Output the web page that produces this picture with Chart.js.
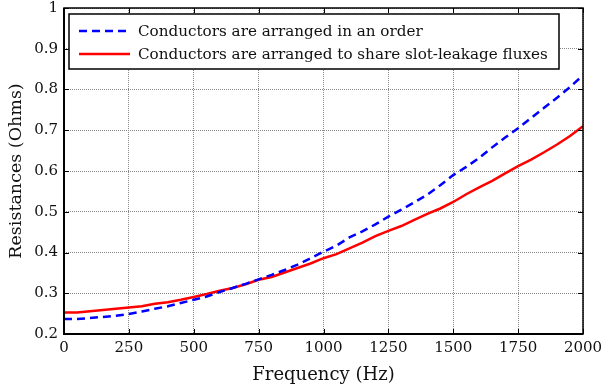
<!DOCTYPE html>
<html>
<head>
<meta charset="utf-8">
<script src="https://cdn.jsdelivr.net/npm/chart.js@4/dist/chart.umd.min.js"></script>
<style>
  html, body { margin: 0; padding: 0; background: #fff; }
  #wrap { width: 601px; height: 387px; }
</style>
</head>
<body>
<div id="wrap"><canvas id="grafico"></canvas></div>
<script>
// frecuencias (Hz)
const frecuencias = [0, 50, 100, 150, 200, 250, 300, 350, 400, 450, 500, 550, 600, 650, 700, 750,
    800, 850, 900, 950, 1000, 1050, 1100, 1150, 1200, 1250, 1300, 1350, 1400, 1450, 1500,
    1550, 1600, 1650, 1700, 1750, 1800, 1850, 1900, 1950, 2000];

// resistencias (Ohms)
const enOrden = [0.237, 0.237, 0.239, 0.242, 0.245, 0.249, 0.255, 0.262, 0.268, 0.276, 0.284,
    0.292, 0.303, 0.313, 0.323, 0.334, 0.345, 0.357, 0.370, 0.386, 0.402, 0.417, 0.437,
    0.452, 0.469, 0.488, 0.505, 0.523, 0.542, 0.565, 0.590, 0.610, 0.632, 0.658, 0.682,
    0.705, 0.730, 0.755, 0.780, 0.806, 0.835];
const compartido = [0.253, 0.253, 0.256, 0.259, 0.262, 0.265, 0.268, 0.274, 0.278, 0.284, 0.291,
    0.298, 0.306, 0.313, 0.322, 0.333, 0.340, 0.351, 0.362, 0.373, 0.386, 0.396, 0.410,
    0.424, 0.440, 0.453, 0.465, 0.480, 0.495, 0.508, 0.524, 0.543, 0.560, 0.576, 0.594,
    0.612, 0.628, 0.646, 0.665, 0.686, 0.710];

const etiquetas = ['Conductors are arranged in an order',
    'Conductors are arranged to share slot-leakage fluxes'];
const tituloX = 'Frequency (Hz)';
const tituloY = 'Resistances (Ohms)';

const fuente = '"DejaVu Serif", "Liberation Serif", serif';

// marco negro con marcas hacia adentro, como en MATLAB
const marco = {
    id: 'marco',
    afterDatasetsDraw(chart) {
        const { ctx, chartArea: a, scales } = chart;
        ctx.save();
        ctx.strokeStyle = '#000';
        ctx.lineWidth = 1;
        ctx.beginPath();
        scales.x.ticks.forEach(t => {
            const px = Math.round(scales.x.getPixelForValue(t.value)) + 0.5;
            ctx.moveTo(px, a.bottom); ctx.lineTo(px, a.bottom - 5);
            ctx.moveTo(px, a.top); ctx.lineTo(px, a.top + 5);
        });
        scales.y.ticks.forEach(t => {
            const py = Math.round(scales.y.getPixelForValue(t.value)) + 0.5;
            ctx.moveTo(a.left, py); ctx.lineTo(a.left + 5, py);
            ctx.moveTo(a.right, py); ctx.lineTo(a.right - 5, py);
        });
        ctx.stroke();
        ctx.lineWidth = 1.5;
        ctx.strokeRect(a.left, a.top, a.right - a.left, a.bottom - a.top);
        ctx.lineWidth = 2;
        ctx.beginPath();
        ctx.moveTo(a.left, a.top); ctx.lineTo(a.left, a.bottom); ctx.lineTo(a.right, a.bottom);
        ctx.stroke();
        ctx.restore();
    }
};

// leyenda dentro del area del grafico
const leyenda = {
    id: 'leyenda',
    afterDraw(chart) {
        const { ctx } = chart;
        const x0 = 69, y0 = 14, w = 490, h = 55;
        ctx.save();
        ctx.fillStyle = '#fff';
        ctx.fillRect(x0, y0, w, h);
        ctx.strokeStyle = '#000';
        ctx.lineWidth = 1.5;
        ctx.strokeRect(x0, y0, w, h);
        ctx.font = '15px ' + fuente;
        const ancho = ctx.measureText(etiquetas[1]).width;
        const tam = 15 * 410 / ancho;
        ctx.font = tam.toFixed(2) + 'px ' + fuente;
        ctx.textBaseline = 'middle';
        const filas = [31, 54];
        chart.data.datasets.forEach((ds, i) => {
            ctx.strokeStyle = ds.borderColor;
            ctx.lineWidth = ds.borderWidth;
            ctx.setLineDash(ds.borderDash || []);
            ctx.beginPath();
            ctx.moveTo(79, filas[i]);
            ctx.lineTo(130, filas[i]);
            ctx.stroke();
            ctx.setLineDash([]);
            ctx.fillStyle = '#111';
            ctx.fillText(ds.label, 138, filas[i] + 1);
        });
        ctx.restore();
    }
};

const ctx = document.getElementById('grafico').getContext('2d');
new Chart(ctx, {
    type: 'line',
    data: {
        datasets: [
            {
                label: etiquetas[0],
                data: frecuencias.map((f, i) => ({ x: f, y: enOrden[i] })),
                borderColor: '#0000ff',
                borderWidth: 2.5,
                borderDash: [8, 5],
                pointRadius: 0,
                fill: false
            },
            {
                label: etiquetas[1],
                data: frecuencias.map((f, i) => ({ x: f, y: compartido[i] })),
                borderColor: '#ff0000',
                borderWidth: 2.5,
                pointRadius: 0,
                fill: false
            }
        ]
    },
    options: {
        responsive: true,
        maintainAspectRatio: false,
        animation: false,
        layout: { padding: { left: 0, right: 18, top: 8, bottom: 0 } },
        plugins: {
            legend: { display: false },
            tooltip: { enabled: false }
        },
        scales: {
            x: {
                type: 'linear',
                min: 0,
                max: 2000,
                afterFit: s => { s.height = 53; s.paddingLeft = 0; s.paddingRight = 0; },
                ticks: {
                    stepSize: 250,
                    color: '#111',
                    padding: 5,
                    maxRotation: 0,
                    font: { family: fuente, size: 15 },
                    callback: v => String(v)
                },
                grid: { color: '#888', drawTicks: false },
                border: { display: false, dash: [1, 1] },
                title: {
                    display: true,
                    text: tituloX,
                    color: '#111',
                    font: { family: fuente, size: 18 },
                    padding: { top: 0, bottom: 1 }
                }
            },
            y: {
                min: 0.2,
                max: 1,
                afterFit: s => { s.width = 64; s.paddingTop = 0; s.paddingBottom = 0; },
                ticks: {
                    stepSize: 0.1,
                    color: '#111',
                    padding: 6,
                    font: { family: fuente, size: 15 },
                    callback: v => Number(v.toFixed(1)).toString()
                },
                grid: { color: '#888', drawTicks: false },
                border: { display: false, dash: [1, 1] },
                title: {
                    display: true,
                    text: tituloY,
                    color: '#111',
                    font: { family: fuente, size: 17.5 },
                    padding: { top: 6, bottom: 0 }
                }
            }
        }
    },
    plugins: [marco, leyenda]
});
</script>
</body>
</html>
